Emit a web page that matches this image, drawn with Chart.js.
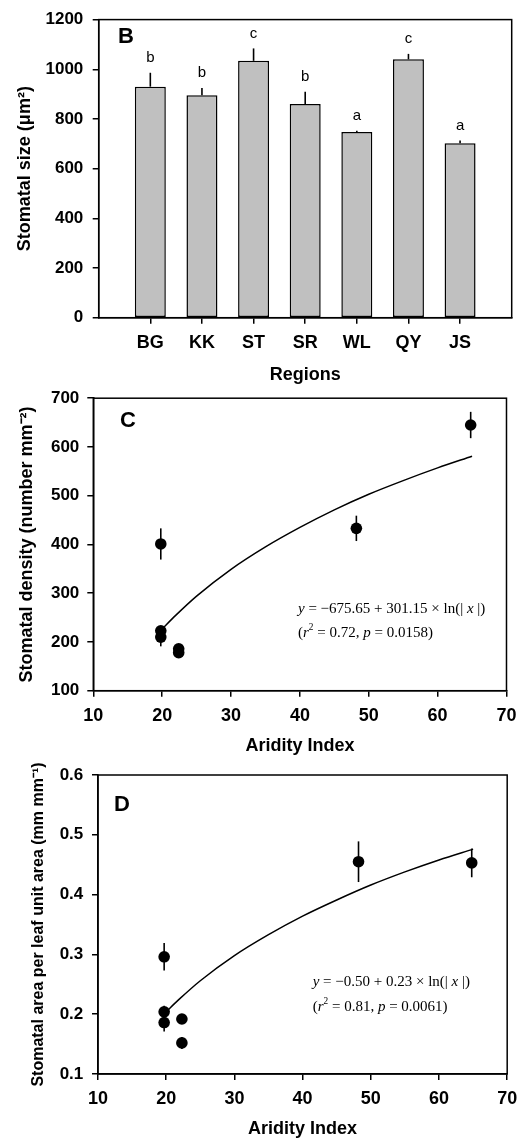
<!DOCTYPE html>
<html><head><meta charset="utf-8">
<script src="https://cdn.jsdelivr.net/npm/chart.js@4"></script>
<style>
html,body{margin:0;padding:0;background:#fff;}
body{width:525px;height:1140px;position:relative;overflow:hidden;}
canvas{position:absolute;left:0;}
</style></head>
<body>
<canvas id="cb" width="525" height="386" style="top:0px"></canvas>
<canvas id="cc" width="525" height="377" style="top:380px"></canvas>
<canvas id="cd" width="525" height="384" style="top:756px"></canvas>
<script>
// ---------- data ----------
const regions = ['BG', 'KK', 'ST', 'SR', 'WL', 'QY', 'JS'];
const stomatalSize = [930, 895, 1034, 860, 748, 1040, 702];
const stomatalSizeErr = [56, 30, 50, 50, 5, 22, 11];
const sizeLetters = ['b', 'b', 'c', 'b', 'a', 'c', 'a'];
const sizeTicks = [0, 200, 400, 600, 800, 1000, 1200];

const densityX = [19.8, 19.8, 19.8, 22.4, 22.4, 48.2, 64.8];
const densityY = [401, 223, 210, 186, 178, 433, 645];
const densityErr = [32, 6, 19, 5, 5, 26, 27];
const densityFitX = [19.8, 22, 25, 30, 35, 40, 45, 50, 55, 60, 65];
const densityFitY = [224, 255, 294, 349, 395, 435, 471, 503, 531, 557, 581];
const densityTicks = [100, 200, 300, 400, 500, 600, 700];

const areaX = [19.7, 19.7, 19.7, 22.3, 22.3, 48.2, 64.8];
const areaY = [0.296, 0.204, 0.186, 0.192, 0.152, 0.455, 0.453];
const areaErr = [0.023, 0.010, 0.015, 0.008, 0.010, 0.034, 0.024];
const areaFitX = [19.8, 22, 25, 30, 35, 40, 45, 50, 55, 60, 65];
const areaFitY = [0.202, 0.226, 0.256, 0.298, 0.333, 0.364, 0.391, 0.416, 0.438, 0.458, 0.476];
const areaTicks = [0.1, 0.2, 0.3, 0.4, 0.5, 0.6];

const aridityTicks = [10, 20, 30, 40, 50, 60, 70];

// ---------- helpers ----------
const SANS = '"Liberation Sans", Arial, Helvetica, sans-serif';
const SERIF = '"Liberation Serif", "Times New Roman", serif';
Chart.defaults.font.family = SANS;
Chart.defaults.color = '#000';

function drawRich(ctx, x, y, parts, size) {
  ctx.save();
  ctx.fillStyle = '#000';
  ctx.textBaseline = 'alphabetic';
  ctx.textAlign = 'left';
  let cx = x;
  parts.forEach(p => {
    const fs = p.sup ? size * 0.62 : size;
    ctx.font = (p.it ? 'italic ' : '') + fs + 'px ' + SERIF;
    ctx.fillText(p.t, cx, y + (p.sup ? -size * 0.42 : 0));
    cx += ctx.measureText(p.t).width;
  });
  ctx.restore();
}

const framePlugin = {
  id: 'frame',
  beforeDatasetsDraw(chart) {
    const {ctx, chartArea: a} = chart;
    ctx.save();
    ctx.strokeStyle = '#000';
    ctx.lineWidth = 1.5;
    ctx.strokeRect(a.left, a.top, a.right - a.left, a.bottom - a.top);
    ctx.restore();
  }
};

const scatterErrPlugin = {
  id: 'scatterErr',
  beforeDatasetsDraw(chart) {
    const {ctx} = chart;
    const ys = chart.scales.y;
    chart.data.datasets.forEach((ds, di) => {
      if (!ds.errors) return;
      const meta = chart.getDatasetMeta(di);
      ctx.save();
      ctx.strokeStyle = '#000';
      ctx.lineWidth = 1.6;
      meta.data.forEach((pt, i) => {
        const v = ds.data[i].y, e = ds.errors[i];
        ctx.beginPath();
        ctx.moveTo(pt.x, ys.getPixelForValue(v + e));
        ctx.lineTo(pt.x, ys.getPixelForValue(v - e));
        ctx.stroke();
      });
      ctx.restore();
    });
  }
};

const barErrPlugin = {
  id: 'barErr',
  afterDatasetsDraw(chart) {
    const {ctx} = chart;
    const ys = chart.scales.y;
    const ds = chart.data.datasets[0];
    const meta = chart.getDatasetMeta(0);
    ctx.save();
    ctx.strokeStyle = '#000';
    ctx.fillStyle = '#000';
    ctx.lineWidth = 1.6;
    ctx.font = '15px ' + SANS;
    ctx.textAlign = 'center';
    ctx.textBaseline = 'middle';
    meta.data.forEach((bar, i) => {
      const v = ds.data[i].y, e = ds.errors[i];
      const top = ys.getPixelForValue(v + e);
      ctx.beginPath();
      ctx.moveTo(bar.x, bar.y);
      ctx.lineTo(bar.x, top);
      ctx.stroke();
      ctx.fillText(ds.letters[i], bar.x, top - 15);
    });
    ctx.restore();
  }
};

function panelLabel(letter, dx, dy) {
  return {
    id: 'panel' + letter,
    afterDraw(chart) {
      const {ctx, chartArea: a} = chart;
      ctx.save();
      ctx.fillStyle = '#000';
      ctx.font = 'bold 22px ' + SANS;
      ctx.textAlign = 'left';
      ctx.textBaseline = 'middle';
      ctx.fillText(letter, a.left + dx, a.top + dy);
      ctx.restore();
    }
  };
}

function equation(line1, line2, dx, by1, by2) {
  return {
    id: 'eq',
    afterDraw(chart) {
      const {ctx} = chart;
      drawRich(ctx, dx, by1, line1, 15);
      drawRich(ctx, dx, by2, line2, 15);
    }
  };
}

function gridOpts() {
  return {display: true, drawOnChartArea: false, drawTicks: true, tickLength: 6, color: '#000', lineWidth: 1.5};
}
function borderOpts() { return {display: true, color: '#000', width: 1.5}; }

const common = {
  responsive: false,
  animation: false,
  devicePixelRatio: 1,
  plugins: {legend: {display: false}, tooltip: {enabled: false}}
};

// ---------- Panel B ----------
new Chart(document.getElementById('cb'), {
  type: 'bar',
  data: {
    datasets: [{
      data: regions.map((r, i) => ({x: i + 1, y: stomatalSize[i]})),
      errors: stomatalSizeErr,
      letters: sizeLetters,
      backgroundColor: '#c0c0c0',
      borderColor: '#000',
      borderWidth: 1.5,
      borderSkipped: false,
      barPercentage: 0.6,
      categoryPercentage: 1.0
    }]
  },
  options: Object.assign({}, common, {
    layout: {padding: {left: 0, right: 13.3, top: 17.3, bottom: 0}},
    scales: {
      x: {
        type: 'linear', min: 0, max: regions.length + 1, offset: false,
        grid: Object.assign(gridOpts(), {offset: false}),
        border: borderOpts(),
        afterBuildTicks: s => { s.ticks = regions.map((r, i) => ({value: i + 1})); },
        afterFit: s => { s.height = 386 - 317.7; },
        ticks: {callback: v => regions[v - 1], padding: 8.2, font: {size: 18, weight: 'bold'}, maxRotation: 0, autoSkip: false},
        title: {display: true, text: 'Regions', font: {size: 18, weight: 'bold'}, padding: {top: 0, bottom: 0}}
      },
      y: {
        type: 'linear', min: sizeTicks[0], max: sizeTicks[sizeTicks.length - 1],
        grid: gridOpts(), border: borderOpts(),
        afterBuildTicks: s => { s.ticks = sizeTicks.map(v => ({value: v})); },
        afterFit: s => { s.width = 98.7; },
        ticks: {callback: v => String(v), padding: 9.4, font: {size: 17, weight: 'bold'}},
        title: {display: true, text: 'Stomatal size (\u03bcm\u00b2)', font: {size: 18, weight: 'bold'}, padding: {top: 14.2, bottom: 0}}
      }
    }
  }),
  plugins: [framePlugin, barErrPlugin, panelLabel('B', 19.3, 17.7)]
});

// ---------- Panel C ----------
new Chart(document.getElementById('cc'), {
  type: 'scatter',
  data: {
    datasets: [
      {
        data: densityFitX.map((x, i) => ({x: x, y: densityFitY[i]})),
        showLine: true, pointRadius: 0, borderColor: '#000', borderWidth: 1.5,
        cubicInterpolationMode: 'monotone', fill: false
      },
      {
        data: densityX.map((x, i) => ({x: x, y: densityY[i]})),
        errors: densityErr,
        pointRadius: 5.8, pointBackgroundColor: '#000', pointBorderColor: '#000', pointBorderWidth: 0
      }
    ]
  },
  options: Object.assign({}, common, {
    layout: {padding: {left: 0, right: 18.3, top: 11.7, bottom: 0}},
    scales: {
      x: {
        type: 'linear', min: aridityTicks[0], max: aridityTicks[aridityTicks.length - 1],
        grid: gridOpts(), border: borderOpts(),
        afterBuildTicks: s => { s.ticks = aridityTicks.map(v => ({value: v})); },
        afterFit: s => { s.height = 377 - 310.7; },
        ticks: {callback: v => String(v), padding: 8.5, font: {size: 18, weight: 'bold'}, maxRotation: 0, autoSkip: false},
        title: {display: true, text: 'Aridity Index', font: {size: 18, weight: 'bold'}, padding: {top: 0, bottom: 0}}
      },
      y: {
        type: 'linear', min: densityTicks[0], max: densityTicks[densityTicks.length - 1],
        grid: gridOpts(), border: borderOpts(),
        afterBuildTicks: s => { s.ticks = densityTicks.map(v => ({value: v})); },
        afterFit: s => { s.width = 93.3; },
        ticks: {callback: v => String(v), padding: 8, font: {size: 17, weight: 'bold'}},
        title: {display: true, text: 'Stomatal density (number mm\u207b\u00b2)', font: {size: 18, weight: 'bold'}, padding: {top: 16.2, bottom: 0}}
      }
    }
  }),
  plugins: [framePlugin, scatterErrPlugin, panelLabel('C', 26.7, 22.3),
    equation(
      [{t: 'y', it: true}, {t: ' = \u2212675.65 + 301.15 \u00d7 ln(| '}, {t: 'x', it: true}, {t: ' |)'}],
      [{t: '('}, {t: 'r', it: true}, {t: '2', sup: true}, {t: ' = 0.72, '}, {t: 'p', it: true}, {t: ' = 0.0158)'}],
      298, 232.5, 256.5)]
});

// ---------- Panel D ----------
new Chart(document.getElementById('cd'), {
  type: 'scatter',
  data: {
    datasets: [
      {
        data: areaFitX.map((x, i) => ({x: x, y: areaFitY[i]})),
        showLine: true, pointRadius: 0, borderColor: '#000', borderWidth: 1.5,
        cubicInterpolationMode: 'monotone', fill: false
      },
      {
        data: areaX.map((x, i) => ({x: x, y: areaY[i]})),
        errors: areaErr,
        pointRadius: 5.8, pointBackgroundColor: '#000', pointBorderColor: '#000', pointBorderWidth: 0
      }
    ]
  },
  options: Object.assign({}, common, {
    layout: {padding: {left: 0, right: 14.3, top: 19, bottom: 0}},
    scales: {
      x: {
        type: 'linear', min: aridityTicks[0], max: aridityTicks[aridityTicks.length - 1],
        grid: gridOpts(), border: borderOpts(),
        afterBuildTicks: s => { s.ticks = aridityTicks.map(v => ({value: v})); },
        afterFit: s => { s.height = 384 - 318; },
        ticks: {callback: v => String(v), padding: 7.8, font: {size: 18, weight: 'bold'}, maxRotation: 0, autoSkip: false},
        title: {display: true, text: 'Aridity Index', font: {size: 18, weight: 'bold'}, padding: {top: 0, bottom: 0}}
      },
      y: {
        type: 'linear', min: areaTicks[0], max: areaTicks[areaTicks.length - 1],
        grid: gridOpts(), border: borderOpts(),
        afterBuildTicks: s => { s.ticks = areaTicks.map(v => ({value: v})); },
        afterFit: s => { s.width = 98; },
        ticks: {callback: v => v.toFixed(1), padding: 8.7, font: {size: 17, weight: 'bold'}},
        title: {display: true, text: 'Stomatal area per leaf unit area (mm mm\u207b\u00b9)', font: {size: 16, weight: 'bold'}, padding: {top: 28.9, bottom: 0}}
      }
    }
  }),
  plugins: [framePlugin, scatterErrPlugin, panelLabel('D', 16, 30),
    equation(
      [{t: 'y', it: true}, {t: ' = \u22120.50 + 0.23 \u00d7 ln(| '}, {t: 'x', it: true}, {t: ' |)'}],
      [{t: '('}, {t: 'r', it: true}, {t: '2', sup: true}, {t: ' = 0.81, '}, {t: 'p', it: true}, {t: ' = 0.0061)'}],
      312.7, 230, 254.5)]
});
</script>
</body></html>
